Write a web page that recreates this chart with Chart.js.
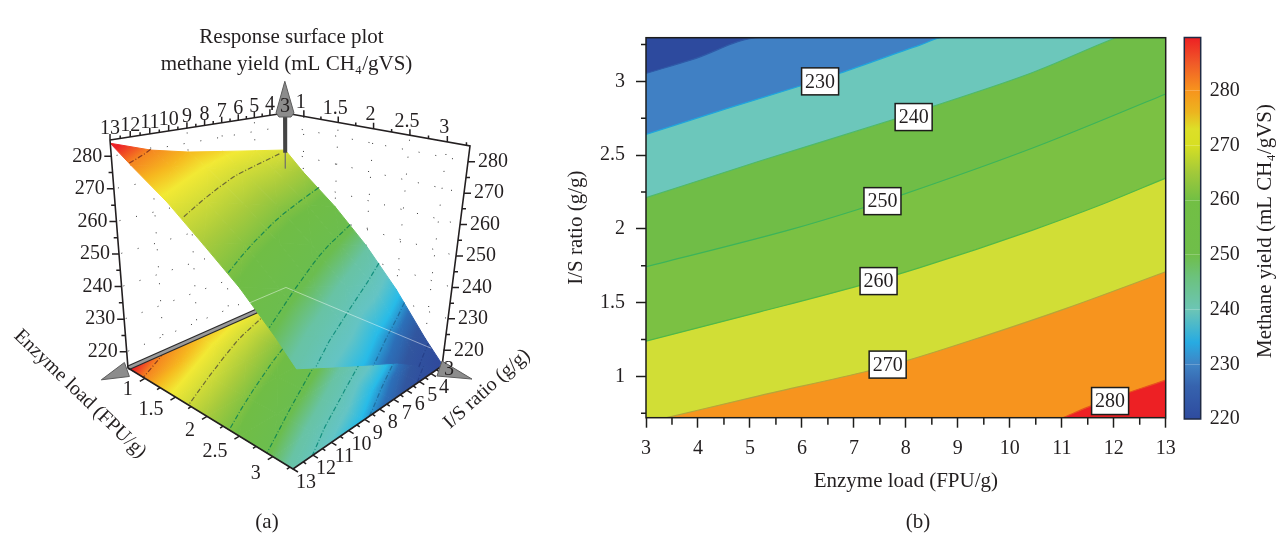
<!DOCTYPE html>
<html>
<head>
<meta charset="utf-8">
<title>Response surface and contour plot</title>
<script src="https://cdn.jsdelivr.net/npm/chart.js@4/dist/chart.umd.js"></script>
<style>
  html, body { margin: 0; background: #fff; width: 1282px; height: 535px; overflow: hidden; }
  canvas { position: absolute; top: 0; }
</style>
</head>
<body>
<canvas id="surfaceChart" width="570" height="535" style="left:0"></canvas>
<canvas id="contourChart" width="620" height="535" style="left:560px"></canvas>
<canvas id="colorbarChart" width="112" height="535" style="left:1170px"></canvas>
<script>
// methane yield, one row per enzyme load
const enzymeGrid = [3, 5, 7, 9, 11, 13];
const ratioGrid = [0.72, 1, 1.5, 2, 2.5, 3, 3.296];
const yieldE3 = [271, 264.3, 254.8, 244.5, 233.3, 221.3, 215.5];
const yieldE5 = [273, 268, 258.8, 248.6, 239, 226.7, 220];
const yieldE7 = [275, 270.3, 261.7, 252.6, 243, 231.7, 226];
const yieldE9 = [277, 273.5, 265.5, 256.9, 247.5, 237.9, 231];
const yieldE11 = [279.8, 277, 269.4, 261, 252, 242.6, 236.5];
const yieldE13 = [284, 279.7, 272.9, 264.9, 257.2, 248.2, 242.5];
const yieldRows = [yieldE3, yieldE5, yieldE7, yieldE9, yieldE11, yieldE13];

// contour lines: enzyme load and I/S ratio along each level
const level220E = [3, 3.9, 5.19];
const level220R = [3.054, 3.149, 3.296];
const level230E = [3, 4.55, 5.98, 6.73, 8.27, 8.71];
const level230R = [2.64, 2.815, 2.97, 3.055, 3.246, 3.296];
const level240E = [3, 5.19, 7.79, 8.52, 10.44, 11.98, 12.05];
const level240R = [2.211, 2.46, 2.745, 2.83, 3.06, 3.287, 3.296];
const level250E = [3, 5.83, 7.06, 7.88, 10.44, 13];
const level250R = [1.743, 2.0, 2.13, 2.225, 2.548, 2.914];
const level260E = [3, 5.19, 7.12, 8.27, 10.44, 11.73, 13];
const level260R = [1.239, 1.437, 1.617, 1.737, 1.992, 2.16, 2.344];
const level270E = [3.4, 5.19, 7.31, 8, 9.48, 11.1, 13];
const level270R = [0.72, 0.87, 1.04, 1.105, 1.27, 1.463, 1.709];
const level280E = [11.02, 11.6, 13];
const level280R = [0.72, 0.805, 0.975];
const levelValues = [220, 230, 240, 250, 260, 270, 280];
const levelEnzyme = [level220E, level230E, level240E, level250E, level260E, level270E, level280E];
const levelRatio = [level220R, level230R, level240R, level250R, level260R, level270R, level280R];

// bands of the contour plot, lowest first (first one is below level 220)
const bandColors = ['#2d4a9e', '#4080c4', '#6cc7bb', '#70bd47', '#7bc143', '#d1de36', '#f7941e', '#ed2024'];
const levelLineColors = ['#2f5aa8', '#1fa5dd', '#4eb96b', '#3cb45a', '#50b848', '#b5a63a', '#e8501f'];
const surfaceLineColors = ['#26408a', '#1f6fa0', '#14907f', '#178a4f', '#1a8a50', '#6d6a35', '#8c3a1e'];

// labels on the contour lines
const labelTexts = ['230', '240', '250', '260', '270', '280'];
const labelE = [6.35, 8.15, 7.55, 7.475, 7.65, 11.93];
const labelR = [3.0, 2.758, 2.188, 1.646, 1.08, 0.833];

// colour scales
const colorbarValues = [220, 226, 230, 234, 240, 246, 250, 260, 265, 270, 273, 276, 280, 285, 289.7];
const colorbarColors = ['#2e4b9f', '#3663ae', '#3f84c5', '#27abe2', '#6cc5b5', '#6cc27c', '#6fbe4a', '#72bf44', '#a2c93a', '#d7df23', '#dddf28', '#ecb51f', '#f7941d', '#f05a28', '#ed2024'];
const surfaceValues = [215, 224, 228, 232, 237, 244, 249, 258, 265, 274, 277, 280, 283];
const surfaceColors = ['#2f479c', '#31569f', '#2c6fb8', '#27bbe8', '#64c4c4', '#68c3a4', '#6bbd4f', '#70bd45', '#a9cb3c', '#f2e934', '#f6b81f', '#f58220', '#ec2227'];

// tick labels
const enzymeTicks = [3, 4, 5, 6, 7, 8, 9, 10, 11, 12, 13];
const ratioTicks3d = [1, 1.5, 2, 2.5, 3];
const yieldTicks3d = [220, 230, 240, 250, 260, 270, 280];
const ratioTicks = [1, 1.5, 2, 2.5, 3];
const colorbarTicks = [220, 230, 240, 250, 260, 270, 280];

const serif = '"Liberation Serif"';
const ink = '#231f20';

Chart.defaults.font.family = serif;
Chart.defaults.color = ink;

function hexToRgb(hex) {
  return [1, 3, 5].map(i => parseInt(hex.slice(i, i + 2), 16));
}

function colorAt(v, values, colors) {
  if (v <= values[0]) return colors[0];
  for (let i = 1; i < values.length; i++) {
    if (v <= values[i]) {
      const t = (v - values[i - 1]) / (values[i] - values[i - 1]);
      const a = hexToRgb(colors[i - 1]), b = hexToRgb(colors[i]);
      return `rgb(${a.map((c, k) => Math.round(c + (b[k] - c) * t)).join(',')})`;
    }
  }
  return colors[colors.length - 1];
}

// ---------- (a) surface ----------

// pixel corners of the 3D box: top of the walls and floor
const boxTop = { e13r1: [110, 140], e3r1: [285, 113], e3r3: [470, 146], e13r3: [302, 214] };
const boxFloor = { e13r1: [128, 368], e3r1: [286, 298], e3r3: [442, 366], e13r3: [293, 469] };

function warp(t, a) { return t * a / (1 + (a - 1) * t); }
function mix(p, q, t) { return [p[0] + (q[0] - p[0]) * t, p[1] + (q[1] - p[1]) * t]; }

function project(e, r, z) {
  const b = warp((r - 0.72) / 2.576, 0.93);
  const a = warp((e - 3) / 10, 0.85 - 0.13 * b);
  const c = (z - 215) / 70;
  const top = mix(mix(boxTop.e3r1, boxTop.e13r1, a), mix(boxTop.e3r3, boxTop.e13r3, a), b);
  const floor = mix(mix(boxFloor.e3r1, boxFloor.e13r1, a), mix(boxFloor.e3r3, boxFloor.e13r3, a), b);
  return mix(floor, top, c);
}

function line3d(points, style) {
  return Object.assign({
    data: points.map(p => (p ? { x: p[0], y: p[1] } : { x: NaN, y: NaN })),
    showLine: true, pointRadius: 0, tension: 0, clip: false,
    borderColor: ink, borderWidth: 1, backgroundColor: 'transparent', fill: false
  }, style);
}

function triangleGradient(chart, pts, zs) {
  const xs = chart.scales.x, ys = chart.scales.y;
  const px = pts.map(p => [xs.getPixelForValue(p[0]), ys.getPixelForValue(p[1])]);
  const dx1 = px[1][0] - px[0][0], dy1 = px[1][1] - px[0][1], dz1 = zs[1] - zs[0];
  const dx2 = px[2][0] - px[0][0], dy2 = px[2][1] - px[0][1], dz2 = zs[2] - zs[0];
  const det = dx1 * dy2 - dx2 * dy1;
  const gx = (dz1 * dy2 - dz2 * dy1) / det;
  const gy = (dx1 * dz2 - dx2 * dz1) / det;
  const zMin = Math.min(...zs), zMax = Math.max(...zs);
  const g2 = gx * gx + gy * gy;
  if (!g2 || zMax === zMin) return colorAt(zMin, surfaceValues, surfaceColors);
  const lo = px[zs.indexOf(zMin)];
  const span = (zMax - zMin) / g2;
  const grad = chart.ctx.createLinearGradient(lo[0], lo[1], lo[0] + gx * span, lo[1] + gy * span);
  grad.addColorStop(0, colorAt(zMin, surfaceValues, surfaceColors));
  surfaceValues.forEach(v => {
    if (v > zMin && v < zMax) grad.addColorStop((v - zMin) / (zMax - zMin), colorAt(v, surfaceValues, surfaceColors));
  });
  grad.addColorStop(1, colorAt(zMax, surfaceValues, surfaceColors));
  return grad;
}

function triangle(pts, zs) {
  const paint = ctx => (ctx.chart.chartArea ? triangleGradient(ctx.chart, pts, zs) : 'transparent');
  return line3d([pts[0], pts[1], pts[2], pts[0]], { fill: 'shape', backgroundColor: paint, borderColor: paint, borderWidth: 1 });
}

// floor = true flattens the surface onto the bottom of the box
function surfaceTriangles(floor) {
  const out = [];
  const pos = (i, j) => project(enzymeGrid[i], ratioGrid[j], floor ? 215 : yieldRows[i][j]);
  for (let i = 0; i < enzymeGrid.length - 1; i++) {
    for (let j = 0; j < ratioGrid.length - 1; j++) {
      out.push(triangle([pos(i, j), pos(i + 1, j), pos(i + 1, j + 1)],
        [yieldRows[i][j], yieldRows[i + 1][j], yieldRows[i + 1][j + 1]]));
      out.push(triangle([pos(i, j), pos(i + 1, j + 1), pos(i, j + 1)],
        [yieldRows[i][j], yieldRows[i + 1][j + 1], yieldRows[i][j + 1]]));
    }
  }
  return out;
}

function contourLines3d(floor) {
  return levelValues.map((lv, k) => line3d(
    levelEnzyme[k].map((e, i) => project(e, levelRatio[k][i], floor ? 215 : lv)),
    { borderColor: surfaceLineColors[k], borderWidth: 1.2, borderDash: [5, 2, 1, 2] }
  ));
}

// dotted grid on the two back walls
function wallDots() {
  const pts = [];
  const seg = (a, b) => { pts.push(a, b, null); };
  yieldTicks3d.forEach(z => {
    seg(project(3, 0.72, z), project(13, 0.72, z));
    seg(project(3, 0.72, z), project(3, 3.296, z));
  });
  [5, 7, 9, 11].forEach(e => seg(project(e, 0.72, 215), project(e, 0.72, 285)));
  [1, 1.5, 2, 2.5, 3].forEach(r => seg(project(3, r, 215), project(3, r, 285)));
  return line3d(pts, { borderColor: '#333', borderWidth: 1, borderDash: [1, 16] });
}

function axisTicks() {
  const pts = [];
  const tick = (p, dx, dy) => { pts.push(p, [p[0] + dx, p[1] + dy], null); };
  for (let e = 3.5; e <= 13; e += 0.5) {
    const big = Number.isInteger(e);
    tick(project(e, 0.72, 285), 0, big ? -6 : -3);
    tick(project(e, 3.296, 215), big ? 5 : 3, big ? 3 : 2);
  }
  for (let r = 1; r <= 3.25; r += 0.25) {
    const big = Number.isInteger(r * 2);
    tick(project(3, r, 285), 0, big ? -6 : -3);
    tick(project(13, r, 215), big ? -5 : -3, big ? 3 : 2);
  }
  for (let z = 220; z <= 280; z += 5) {
    const len = z % 10 === 0 ? 7 : 4;
    tick(project(13, 0.72, z), -len, 0);
    tick(project(3, 3.296, z), len, 0);
  }
  return line3d(pts, { borderWidth: 1.5 });
}

function grayArrows() {
  const apex = project(3, 0.72, 285);
  const tipZ = project(3, 0.72, 297);
  const headZ = [tipZ, [apex[0] + 9, apex[1]], [apex[0] + 6, apex[1] + 4], [apex[0] - 6, apex[1] + 4], [apex[0] - 9, apex[1]], tipZ];
  const baseE = project(13.3, 0.72, 215);
  const tipE = project(14.4, 0.72, 215);
  const headE = [tipE, [baseE[0] + 2, baseE[1] - 8], [baseE[0] + 7, baseE[1] + 6], tipE];
  const baseR = project(3, 3.296, 215);
  const tipR = project(3, 3.75, 215);
  const headR = [tipR, [baseR[0], baseR[1] - 5], [baseR[0] - 5, baseR[1] + 10], tipR];
  return [headZ, headE, headR].map(h => line3d(h, { fill: 'shape', backgroundColor: '#8c8c8c', borderColor: '#5c5c5c', borderWidth: 1 }));
}

const surfaceLayers = [
  wallDots(),
  ...surfaceTriangles(true),
  ...contourLines3d(true),
  line3d([project(13, 0.72, 215), project(3, 0.72, 215)], { borderColor: '#2b2b2b', borderWidth: 5 }),
  line3d([project(13, 0.72, 215), project(3, 0.72, 215)], { borderColor: '#9a9a9a', borderWidth: 2.5 }),
  ...surfaceTriangles(false),
  ...contourLines3d(false),
  // the back edges of the floor show faintly through the surface
  line3d([project(7.4, 0.72, 219), project(3, 0.72, 219), project(3, 3.1, 219)], { borderColor: 'rgba(255,255,255,0.45)', borderWidth: 1 }),
  line3d([project(3, 0.72, 285), project(3, 0.72, 264)], { borderColor: 'rgba(110,110,110,0.6)', borderWidth: 1 }),
  line3d([project(3, 0.72, 285), project(3, 0.72, 270)], { borderColor: '#444', borderWidth: 4 }),
  line3d([project(13, 0.72, 285), project(3, 0.72, 285), project(3, 3.296, 285), project(3, 3.296, 215), project(13, 3.296, 215), project(13, 0.72, 215), project(13, 0.72, 285)], { borderWidth: 1.6 }),
  axisTicks(),
  ...grayArrows()
];

const surfaceText = {
  id: 'surfaceText',
  afterDraw(chart) {
    const ctx = chart.ctx;
    const xs = chart.scales.x, ys = chart.scales.y;
    const put = (str, p, dx, dy, align) => {
      ctx.textAlign = align || 'center';
      ctx.fillText(str, xs.getPixelForValue(p[0]) + dx, ys.getPixelForValue(p[1]) + dy);
    };
    ctx.save();
    ctx.fillStyle = ink;
    ctx.textBaseline = 'middle';
    ctx.font = `20px ${serif}`;
    enzymeTicks.forEach(e => {
      put(String(e), project(e, 0.72, 285), 0, e === 3 ? -6 : -11);
      if (e === 3) put('3', project(3, 3.296, 215), 7, 4);
      else put(String(e), project(e, 3.296, 215), 13, 14);
    });
    ratioTicks3d.forEach(r => {
      put(String(r), project(3, r, 285), -3, -14);
      put(String(r), project(13, r, 215), -12, 11 + (r - 1) * 3, 'right');
    });
    yieldTicks3d.forEach(z => {
      put(String(z), project(13, 0.72, z), -24, 0);
      put(String(z), project(3, 3.296, z), 25, 0);
    });
    ctx.font = `21px ${serif}`;
    ctx.textAlign = 'center';
    ctx.fillText('Response surface plot', 291.5, 37);
    ctx.fillText('methane yield (mL CH₄/gVS)', 286.5, 64);
    ctx.fillText('(a)', 267, 522);
    ctx.font = `20px ${serif}`;
    ctx.save();
    ctx.translate(80, 394);
    ctx.rotate(44 * Math.PI / 180);
    ctx.fillText('Enzyme load (FPU/g)', 0, 0);
    ctx.restore();
    ctx.save();
    ctx.translate(487, 389);
    ctx.rotate(-42 * Math.PI / 180);
    ctx.fillText('I/S ratio (g/g)', 0, 0);
    ctx.restore();
    ctx.restore();
  }
};

new Chart(document.getElementById('surfaceChart'), {
  type: 'scatter',
  data: { datasets: surfaceLayers.slice().reverse() },
  options: {
    responsive: false, animation: false, events: [],
    layout: { padding: 0 },
    plugins: { legend: { display: false }, tooltip: { enabled: false } },
    scales: {
      x: { type: 'linear', display: false, min: 0, max: 570 },
      y: { type: 'linear', display: false, min: 0, max: 535, reverse: true }
    }
  },
  plugins: [surfaceText]
});

// ---------- (b) contour ----------

const topRatio = 3.296, bottomRatio = 0.72;

const contourLayers = [{
  data: [{ x: 3, y: topRatio }, { x: 13, y: topRatio }],
  showLine: true, pointRadius: 0, borderWidth: 0,
  fill: { target: 'start' }, backgroundColor: bandColors[0]
}];
levelValues.forEach((lv, k) => {
  const pts = levelEnzyme[k].map((e, i) => ({ x: e, y: levelRatio[k][i] }));
  if (levelRatio[k][levelRatio[k].length - 1] >= topRatio) pts.push({ x: 13, y: topRatio });
  contourLayers.push({
    data: pts, showLine: true, pointRadius: 0, tension: 0.4,
    cubicInterpolationMode: 'monotone',
    borderColor: levelLineColors[k], borderWidth: 1.2,
    fill: { target: 'start' }, backgroundColor: bandColors[k + 1]
  });
});

const contourDecor = {
  id: 'contourDecor',
  afterDraw(chart) {
    const { ctx, chartArea: a, scales: { x, y } } = chart;
    ctx.save();
    ctx.strokeStyle = '#1d1d1b';
    ctx.lineWidth = 1.5;
    ctx.strokeRect(a.left, a.top, a.right - a.left, a.bottom - a.top);
    // minor ticks
    ctx.beginPath();
    for (let v = 3.5; v < 13; v += 1) {
      const px = x.getPixelForValue(v);
      ctx.moveTo(px, a.bottom);
      ctx.lineTo(px, a.bottom + 7);
    }
    for (let v = 0.75; v < 3.3; v += 0.5) {
      const py = y.getPixelForValue(v);
      ctx.moveTo(a.left, py);
      ctx.lineTo(a.left - 5, py);
    }
    ctx.stroke();
    // labels on the lines
    ctx.font = `20px ${serif}`;
    ctx.textAlign = 'center';
    ctx.textBaseline = 'middle';
    labelTexts.forEach((t, i) => {
      const px = x.getPixelForValue(labelE[i]);
      const py = y.getPixelForValue(labelR[i]);
      ctx.fillStyle = '#fff';
      ctx.fillRect(px - 18.5, py - 13.5, 37, 27);
      ctx.strokeRect(px - 18.5, py - 13.5, 37, 27);
      ctx.fillStyle = ink;
      ctx.fillText(t, px, py + 1);
    });
    ctx.font = `21px ${serif}`;
    ctx.fillText('(b)', 358, 522);
    ctx.restore();
  }
};

new Chart(document.getElementById('contourChart'), {
  type: 'scatter',
  data: { datasets: contourLayers.slice().reverse() },
  options: {
    responsive: false, animation: false, events: [],
    layout: { padding: { top: 37.7, right: 14.3, bottom: 40.7, left: 0 } },
    plugins: {
      legend: { display: false }, tooltip: { enabled: false },
      title: { display: false }
    },
    scales: {
      x: {
        type: 'linear', min: 3, max: 13,
        afterBuildTicks(s) { s.ticks = enzymeTicks.map(v => ({ value: v })); },
        afterFit(s) { s.height = 76.6; s.paddingLeft = 0; s.paddingRight = 0; },
        border: { display: false },
        grid: { drawOnChartArea: false, tickLength: 10, tickColor: '#1d1d1b', tickWidth: 1.5 },
        ticks: { autoSkip: false, maxRotation: 0, padding: 9, font: { size: 20 }, color: ink, callback: v => String(v) },
        title: { display: true, text: 'Enzyme load (FPU/g)', font: { size: 21 }, color: ink, padding: { top: 0, bottom: 0 } }
      },
      y: {
        type: 'linear', min: bottomRatio, max: topRatio,
        afterBuildTicks(s) { s.ticks = ratioTicks.map(v => ({ value: v })); },
        afterFit(s) { s.width = 86; s.paddingTop = 0; s.paddingBottom = 0; },
        border: { display: false },
        grid: { drawOnChartArea: false, tickLength: 10, tickColor: '#1d1d1b', tickWidth: 1.5 },
        ticks: { autoSkip: false, padding: 11, font: { size: 20 }, color: ink, callback: v => String(v) },
        title: { display: true, text: 'I/S ratio (g/g)', font: { size: 21 }, color: ink, padding: { top: 3.4, bottom: 0 } }
      }
    }
  },
  plugins: [contourDecor]
});

// ---------- colour bar ----------

const colorbarDecor = {
  id: 'colorbarDecor',
  afterDraw(chart) {
    const { ctx, chartArea: a } = chart;
    ctx.save();
    ctx.strokeStyle = '#1f2a44';
    ctx.lineWidth = 1.5;
    ctx.strokeRect(a.left, a.top, a.right - a.left, a.bottom - a.top);
    ctx.fillStyle = ink;
    ctx.font = `21px ${serif}`;
    ctx.textAlign = 'center';
    ctx.textBaseline = 'middle';
    ctx.translate(95, 231);
    ctx.rotate(-Math.PI / 2);
    ctx.fillText('Methane yield (mL CH₄/gVS)', 0, 0);
    ctx.restore();
  }
};

function colorbarFill(ctx) {
  const chart = ctx.chart;
  if (!chart.chartArea) return colorbarColors[0];
  const y = chart.scales.y;
  const grad = chart.ctx.createLinearGradient(0, y.getPixelForValue(220), 0, y.getPixelForValue(289.7));
  colorbarValues.forEach((v, i) => grad.addColorStop((v - 220) / 69.7, colorbarColors[i]));
  return grad;
}

new Chart(document.getElementById('colorbarChart'), {
  type: 'bar',
  data: {
    labels: [''],
    datasets: [{ data: [[220, 289.7]], backgroundColor: colorbarFill, barPercentage: 1, categoryPercentage: 1 }]
  },
  options: {
    responsive: false, animation: false, events: [],
    layout: { padding: { top: 37.5, right: 0, bottom: 116, left: 14.3 } },
    plugins: { legend: { display: false }, tooltip: { enabled: false } },
    scales: {
      x: { display: false },
      y: {
        position: 'right', min: 220, max: 289.7,
        afterBuildTicks(s) { s.ticks = colorbarTicks.map(v => ({ value: v })); },
        afterFit(s) { s.width = 81.3; s.paddingTop = 0; s.paddingBottom = 0; },
        border: { display: false },
        grid: { drawTicks: false, color: 'rgba(255,255,255,0.22)', z: 1 },
        ticks: { autoSkip: false, padding: 9, font: { size: 20 }, color: ink, callback: v => String(v) }
      }
    }
  },
  plugins: [colorbarDecor]
});
</script>
</body>
</html>
